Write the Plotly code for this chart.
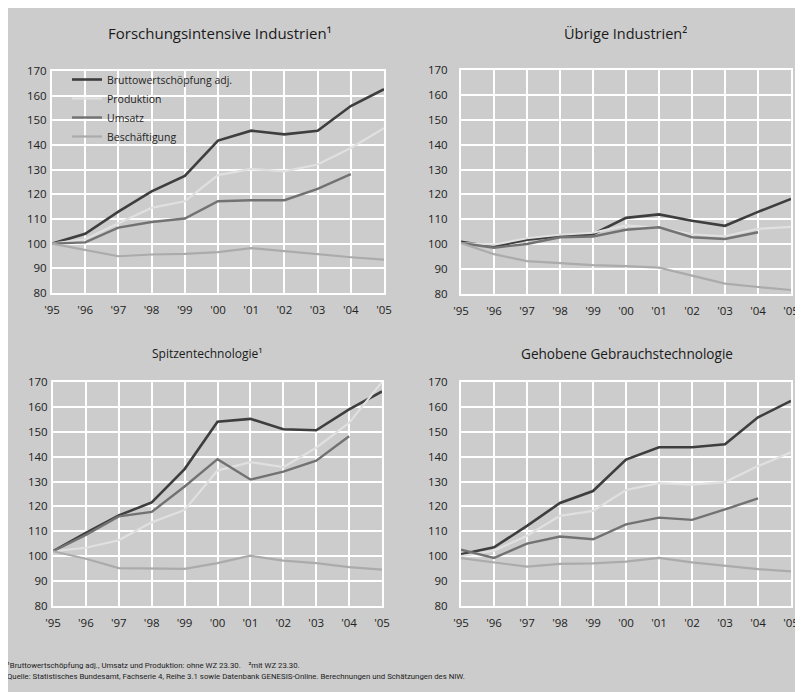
import plotly.graph_objects as go

W, H = 803, 692
OFF = 8  # page body margin that offsets the figure in the browser window

years = [1995, 1996, 1997, 1998, 1999, 2000, 2001, 2002, 2003, 2004, 2005]
year_labels = ["'95", "'96", "'97", "'98", "'99", "'00", "'01", "'02", "'03", "'04", "'05"]
y_ticks = [80, 90, 100, 110, 120, 130, 140, 150, 160, 170]

series_names = ["Bruttowertschöpfung adj.", "Produktion", "Umsatz", "Beschäftigung"]

# Forschungsintensive Industrien
fi_brutto = [100, 104, 113, 121.2, 127.5, 141.8, 145.8, 144.3, 145.8, 155.8, 162.6]
fi_prod = [100, 101.8, 108.3, 114.5, 117.2, 127.8, 130.3, 129.3, 132.1, 138.8, 146.8]
fi_ums = [100, 100.5, 106.5, 108.8, 110.2, 117.2, 117.6, 117.6, 122.2, 128.2, None]
fi_besch = [100, 97.3, 94.9, 95.6, 95.9, 96.6, 98.2, 97.0, 95.7, 94.5, 93.5]

# Übrige Industrien
ue_brutto = [101, 99, 101.8, 103.2, 104, 110.6, 112, 109.4, 107.4, 113, 118.2]
ue_prod = [100.5, 99.8, 102.4, 103.8, 104.6, 107.6, 106.6, 104, 103.2, 106.2, 107]
ue_ums = [100.5, 98.6, 100.1, 102.8, 103.1, 105.8, 106.8, 102.8, 102.1, 104.8, None]
ue_besch = [100.5, 96, 93.2, 92.3, 91.6, 91.2, 90.6, 87.4, 84.2, 82.8, 81.6]

# Spitzentechnologie
sp_brutto = [102, 109.4, 116.4, 121.6, 135, 154, 155.2, 151, 150.6, 159, 166.2]
sp_prod = [102, 103.4, 106.4, 113.6, 118.6, 134.4, 137.8, 135.8, 143.6, 153.6, 170]
sp_ums = [102, 108.6, 116, 117.8, 128, 139, 130.8, 134, 138.4, 148.2, None]
sp_besch = [102, 99, 95.2, 94.9, 94.9, 97.2, 100.2, 98.2, 97.2, 95.6, 94.6]

# Gehobene Gebrauchstechnologie
gg_brutto = [100.8, 103.6, 112.2, 121.4, 126.2, 138.8, 143.8, 143.8, 145, 155.8, 162.4]
gg_prod = [100, 102.2, 108.2, 116.2, 118.2, 126.6, 129.4, 128.8, 129.8, 136.2, 141.8]
gg_ums = [102.6, 99.3, 105.1, 107.9, 106.8, 112.8, 115.5, 114.6, 118.8, 123.2, None]
gg_besch = [99.2, 97.5, 95.8, 96.9, 97.1, 97.8, 99.3, 97.5, 96.2, 94.8, 93.9]

panel_titles = ["Forschungsintensive Industrien¹", "Übrige Industrien²",
                "Spitzentechnologie¹", "Gehobene Gebrauchstechnologie"]
panels = [
    [fi_brutto, fi_prod, fi_ums, fi_besch],
    [ue_brutto, ue_prod, ue_ums, ue_besch],
    [sp_brutto, sp_prod, sp_ums, sp_besch],
    [gg_brutto, gg_prod, gg_ums, gg_besch],
]

line_colors = ["#3e3e3e", "#e0e0e0", "#727272", "#ababab"]
line_widths = [2.6, 2.2, 2.4, 2.2]

BG = "#cccccc"
FONT = "Open Sans"


def px_x(v):
    return (v - OFF) / W


def px_y(v):
    return (H - (v - OFF)) / H


# pixel geometry of each panel in the target window (left, right, top, bottom)
boxes = [(52, 384, 71, 293), (461, 791, 70, 294), (53, 382, 382, 606), (461, 791, 382, 606)]
title_pos = [(220, 33, 15), (625, 33, 14.5), (207, 353, 12), (627, 353, 13.6)]
label_standoff = [1, 9, 1, 9]

fig = go.Figure()

for i, (vals, box) in enumerate(zip(panels, boxes)):
    n = i + 1
    xa = "x" if n == 1 else f"x{n}"
    ya = "y" if n == 1 else f"y{n}"
    for k, (name, v) in enumerate(zip(series_names, vals)):
        fig.add_trace(go.Scatter(
            x=years, y=v, mode="lines", name=name,
            line=dict(color=line_colors[k], width=line_widths[k]),
            xaxis=xa, yaxis=ya, showlegend=(n == 1), connectgaps=False,
            hoverinfo="skip",
        ))
    l, r, t, b = box
    xkey = "xaxis" if n == 1 else f"xaxis{n}"
    ykey = "yaxis" if n == 1 else f"yaxis{n}"
    fig.layout[xkey] = dict(
        domain=[px_x(l), px_x(r)], range=[1995, 2005], anchor=ya,
        tickvals=years, ticktext=year_labels, automargin=False,
        showgrid=True, gridcolor="white", gridwidth=2,
        showline=True, linecolor="white", linewidth=2, mirror=True,
        zeroline=False, ticks="", ticklabelstandoff=5,
        tickfont=dict(family=FONT, size=11.5, color="#222222"),
        fixedrange=True,
    )
    fig.layout[ykey] = dict(
        domain=[px_y(b), px_y(t)], range=[80, 170], anchor=xa,
        tickvals=y_ticks, automargin=False,
        showgrid=True, gridcolor="white", gridwidth=2,
        showline=True, linecolor="white", linewidth=2, mirror=True,
        zeroline=False, ticks="", ticklabelstandoff=label_standoff[i],
        tickfont=dict(family=FONT, size=11.5, color="#222222"),
        fixedrange=True,
    )

annotations = []
for (tx, ty, fs), title in zip(title_pos, panel_titles):
    annotations.append(dict(
        text=title, xref="paper", yref="paper", x=px_x(tx), y=px_y(ty),
        xanchor="center", yanchor="middle", showarrow=False,
        font=dict(family=FONT, size=fs, color="#1a1a1a"),
    ))

footnote1 = "¹Bruttowertschöpfung adj., Umsatz und Produktion: ohne WZ 23.30.    ²mit WZ 23.30."
footnote2 = "Quelle: Statistisches Bundesamt, Fachserie 4, Reihe 3.1 sowie Datenbank GENESIS-Online. Berechnungen und Schätzungen des NIW."
for txt, fy in [(footnote1, 665), (footnote2, 676)]:
    annotations.append(dict(
        text=txt, xref="paper", yref="paper", x=px_x(5), y=px_y(fy),
        xanchor="left", yanchor="middle", showarrow=False,
        font=dict(family="Liberation Sans Narrow, Roboto", size=7.8, color="#222222"),
    ))

fig.update_layout(
    width=W, height=H, autosize=False,
    margin=dict(l=0, r=0, t=0, b=0, pad=0),
    paper_bgcolor=BG, plot_bgcolor=BG,
    font=dict(family=FONT, color="#2a2a2a"),
    annotations=annotations,
    legend=dict(
        x=px_x(67), y=px_y(65), xanchor="left", yanchor="top",
        bgcolor="rgba(0,0,0,0)", borderwidth=0,
        font=dict(family=FONT, size=10.5, color="#1e1e1e"),
        itemwidth=30, tracegroupgap=0,
    ),
    showlegend=True,
)

fig.write_html("out.html")
